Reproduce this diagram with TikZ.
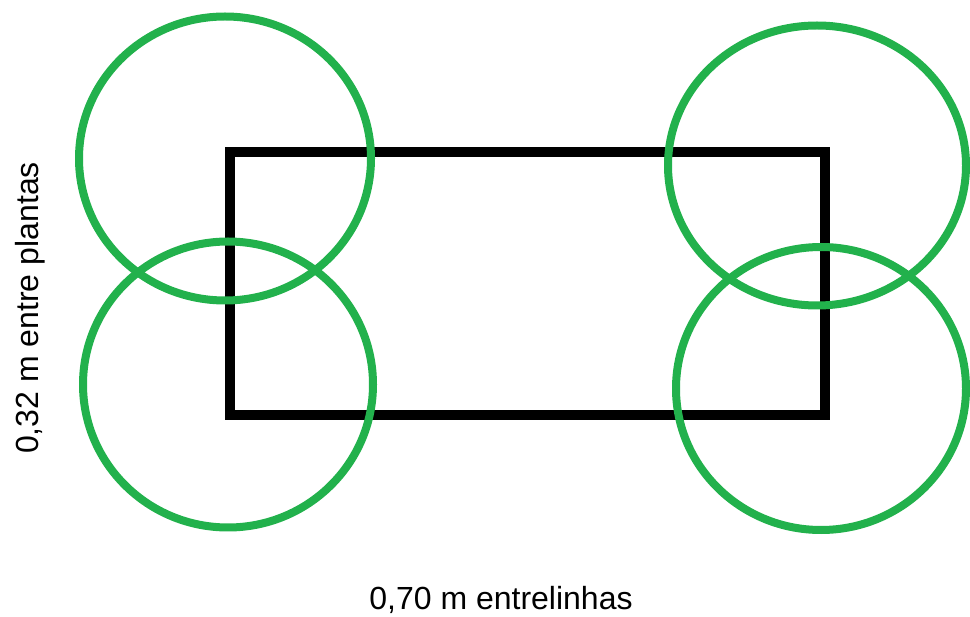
\documentclass[tikz,border=0pt]{standalone}
\usepackage{fontspec}
\setmainfont{Liberation Sans}
\usepackage{xcolor}
\definecolor{plantgreen}{HTML}{22B14C}
\usepackage{tikz}
\usetikzlibrary{shapes.geometric}
\usetikzlibrary{positioning}

\begin{document}
\begin{tikzpicture}
          [x=1pt, y=-1pt,
           plant/.style={draw=plantgreen, line width=8pt, ellipse, inner sep=0pt},
           area/.style={draw=black, line width=9.5pt, rectangle, inner sep=0pt},
           label/.style={font=\fontsize{32}{38}\selectfont, inner sep=0pt}]
          \useasboundingbox (0,0) rectangle (970,617);

          % area between the four plants
          \node (area) [area, minimum width=595pt, minimum height=263pt] at (527.5,283.5) {};

          % plants
          \node (tl) [plant, minimum width=292pt, minimum height=284pt] at (225,158.5) {};
          \node (bl) [plant, minimum width=290pt, minimum height=286pt] at (228,384.5) {};
          \node (tr) [plant, minimum width=298pt, minimum height=280pt] at (817,165.5) {};
          \node (br) [plant, minimum width=290pt, minimum height=283pt] at (821,388.5) {};

          % spacing labels
          \node (rows) [label] at (501,600) {0,70 m entrelinhas};
          \node (plants) [label, rotate=90] at (30,308) {0,32 m entre plantas};

        \end{tikzpicture}
\end{document}
